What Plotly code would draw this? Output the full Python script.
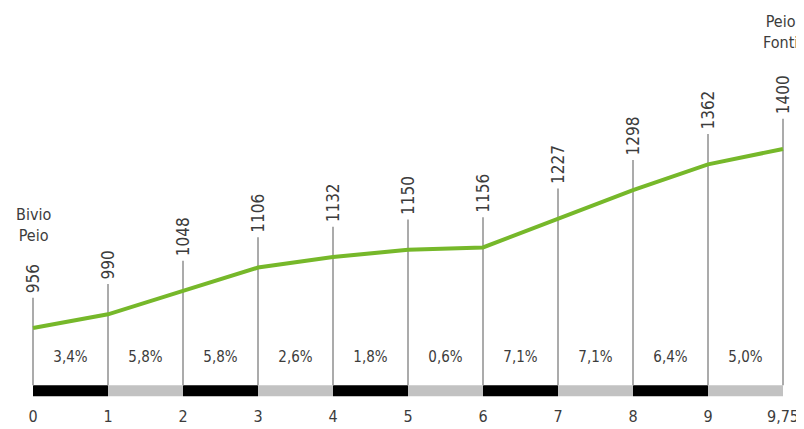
import plotly.graph_objects as go

# chilometri (etichette asse) e quote
km_labels = ["0", "1", "2", "3", "4", "5", "6", "7", "8", "9", "9,75"]
quote = [956, 990, 1048, 1106, 1132, 1150, 1156, 1227, 1298, 1362, 1400]
pendenze = ["3,4%", "5,8%", "5,8%", "2,6%", "1,8%", "0,6%", "7,1%", "7,1%", "6,4%", "5,0%"]
localita = {0: "Bivio<br>Peio", 10: "Peio<br>Fonti"}

FONT = "DejaVu Sans Condensed, sans-serif"
TXT = "#3c3c3c"
pos = list(range(len(quote)))

bar_base, bar_h = 787, 27
label_gap = 75
pct_y = 881

fig = go.Figure()

# barra alternata nera / grigia
seg_x = [i + 0.5 for i in range(len(pendenze))]
seg_col = ["#000000" if i % 2 == 0 else "#c2c2c2" for i in range(len(pendenze))]
fig.add_trace(go.Bar(x=seg_x, y=[bar_h] * len(seg_x), base=[bar_base] * len(seg_x),
                     width=1, marker_color=seg_col, marker_line_width=0, hoverinfo="skip"))

# linee verticali grigie
vx, vy = [], []
for p, q in zip(pos, quote):
    vx += [p, p, None]
    vy += [bar_base + bar_h, q + label_gap, None]
fig.add_trace(go.Scatter(x=vx, y=vy, mode="lines", line=dict(color="#ababab", width=2),
                         hoverinfo="skip"))

# profilo altimetrico
fig.add_trace(go.Scatter(x=pos, y=quote, mode="lines", line=dict(color="#76b82a", width=4)))

# pendenze
fig.add_trace(go.Scatter(x=seg_x, y=[pct_y] * len(seg_x), mode="text", text=pendenze,
                         textfont=dict(family=FONT, size=15, color=TXT)))

annotations = []
for p, q in zip(pos, quote):
    annotations.append(dict(x=p, y=q + label_gap, text=str(q), textangle=-90, showarrow=False,
                            xanchor="center", yanchor="bottom", yshift=2,
                            font=dict(family=FONT, size=17, color=TXT)))
annotations.append(dict(x=0, y=0.398, yref="paper", text=localita[0], showarrow=False,
                        xanchor="center", yanchor="bottom", align="center",
                        font=dict(family=FONT, size=16, color=TXT)))
annotations.append(dict(x=1, xref="paper", y=0.884, yref="paper", text=localita[10],
                        showarrow=False, xanchor="right", yanchor="bottom", align="center",
                        xshift=-4, font=dict(family=FONT, size=16, color=TXT)))

# la pagina ha 8px di margine: figura leggermente più piccola
fig.update_layout(
    width=796, height=421,
    margin=dict(l=0, r=0, t=0, b=24),
    paper_bgcolor="white", plot_bgcolor="white",
    showlegend=False, barmode="overlay",
    annotations=annotations,
    xaxis=dict(range=[-0.3333, 10.28], tickmode="array", tickvals=pos, ticktext=km_labels,
               showgrid=False, zeroline=False, showline=False, automargin=False,
               tickfont=dict(family=FONT, size=16, color=TXT)),
    yaxis=dict(range=[765.1, 1749.7], visible=False),
)

fig.write_html("out.html")
